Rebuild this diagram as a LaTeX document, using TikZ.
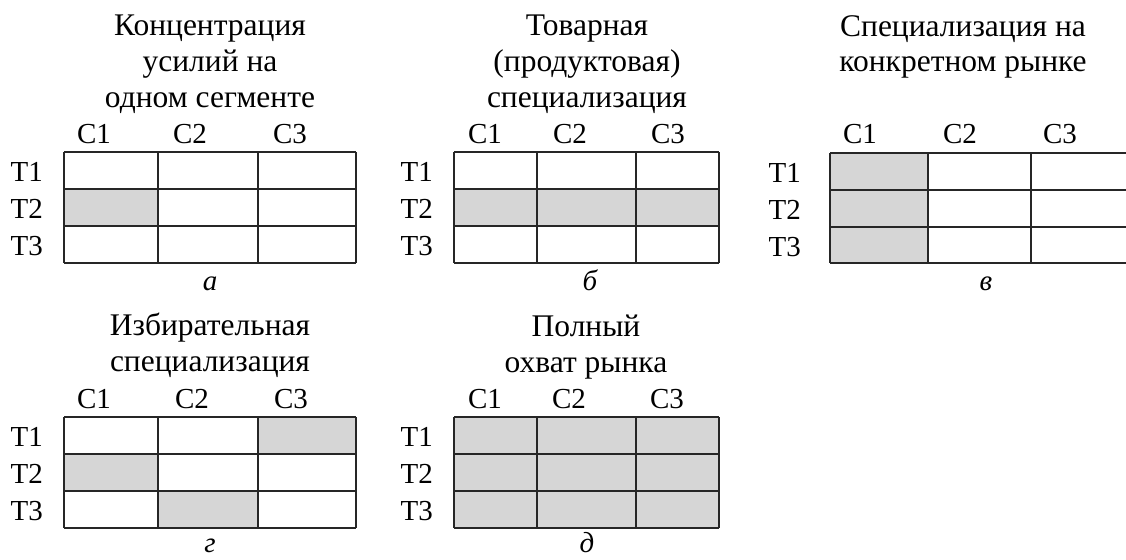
\documentclass[tikz,border=0pt]{standalone}
\usepackage{fontspec}
\setmainfont{Liberation Serif}

\def\rowh{37}
\def\lift{10.5}

\tikzset{
  grid/.style={draw=black!85, line width=1.1pt},
  hit/.style={fill=black!16},
  lbl/.style={inner sep=0pt, font=\fontsize{29}{35.5}\selectfont},
  ttl/.style={inner sep=0pt, font=\fontsize{31.5}{35.5}\selectfont, align=center, anchor=base},
  sub/.style={lbl, font=\fontsize{29}{35.5}\selectfont\itshape, anchor=base},
}

\begin{document}
\begin{tikzpicture}[x=1pt, y=-1pt]
  \useasboundingbox (0,0) rectangle (1126,559);

  % a -- one segment
  \fill[hit] (64,189) rectangle (158,226);
  \foreach \y in {152,189,226,263} \draw[grid] (64,\y) -- (356,\y);
  \foreach \x in {64,158,258,356} \draw[grid] (\x,152) -- (\x,263);
  \node[ttl] (atitle) at (210,107) {Концентрация\\усилий на\\одном сегменте};
  \foreach \x [count=\i] in {94,190,290}
    \node[lbl, anchor=base] (aC\i) at (\x,143) {С\i};
  \foreach \i in {1,2,3}
    \node[lbl, anchor=base east] (aT\i) at (43,{152+\rowh*(\i-0.5)+\lift}) {Т\i};
  \node[sub] (asub) at (210,290) {а};

  % b -- product
  \fill[hit] (454,189) rectangle (719,226);
  \foreach \y in {152,189,226,263} \draw[grid] (454,\y) -- (719,\y);
  \foreach \x in {454,537,636,719} \draw[grid] (\x,152) -- (\x,263);
  \node[ttl] (btitle) at (587,107) {Товарная\\(продуктовая)\\специализация};
  \foreach \x [count=\i] in {485,570,668}
    \node[lbl, anchor=base] (bC\i) at (\x,143) {С\i};
  \foreach \i in {1,2,3}
    \node[lbl, anchor=base east] (bT\i) at (433,{152+\rowh*(\i-0.5)+\lift}) {Т\i};
  \node[sub] (bsub) at (590,290) {б};

  % c -- market
  \fill[hit] (830,153) rectangle (928,263);
  \foreach \y in {153,190,227,263} \draw[grid] (830,\y) -- (1126,\y);
  \foreach \x in {830,928,1031} \draw[grid] (\x,153) -- (\x,263);
  \node[ttl] (ctitle) at (963,72) {Специализация на\\конкретном рынке};
  \foreach \x [count=\i] in {860,960,1060}
    \node[lbl, anchor=base] (cC\i) at (\x,143) {С\i};
  \foreach \i in {1,2,3}
    \node[lbl, anchor=base east] (cT\i) at (801,{153+\rowh*(\i-0.5)+\lift}) {Т\i};
  \node[sub] (csub) at (986,290) {в};

  % d -- selective
  \fill[hit] (258,417) rectangle (356,454);
  \fill[hit] (64,454) rectangle (158,491);
  \fill[hit] (158,491) rectangle (258,528);
  \foreach \y in {417,454,491,528} \draw[grid] (64,\y) -- (356,\y);
  \foreach \x in {64,158,258,356} \draw[grid] (\x,417) -- (\x,528);
  \node[ttl] (dtitle) at (210,371) {Избирательная\\специализация};
  \foreach \x [count=\i] in {94,192,291}
    \node[lbl, anchor=base] (dC\i) at (\x,408) {С\i};
  \foreach \i in {1,2,3}
    \node[lbl, anchor=base east] (dT\i) at (43,{417+\rowh*(\i-0.5)+\lift}) {Т\i};
  \node[sub] (dsub) at (210,552) {г};

  % e -- full coverage
  \fill[hit] (454,417) rectangle (719,528);
  \foreach \y in {417,454,491,528} \draw[grid] (454,\y) -- (719,\y);
  \foreach \x in {454,537,636,719} \draw[grid] (\x,417) -- (\x,528);
  \node[ttl] (etitle) at (586,372) {Полный\\охват рынка};
  \foreach \x [count=\i] in {485,569,667}
    \node[lbl, anchor=base] (eC\i) at (\x,408) {С\i};
  \foreach \i in {1,2,3}
    \node[lbl, anchor=base east] (eT\i) at (433,{417+\rowh*(\i-0.5)+\lift}) {Т\i};
  \node[sub] (esub) at (587,552) {д};

\end{tikzpicture}
\end{document}
